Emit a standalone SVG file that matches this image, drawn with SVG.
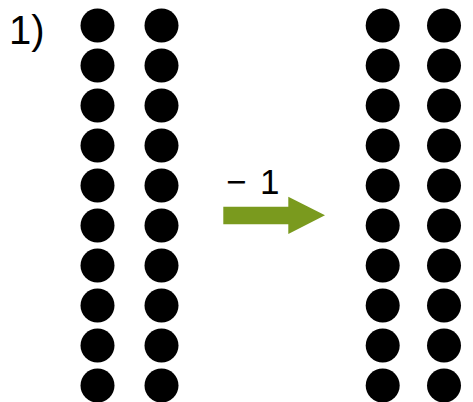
<svg xmlns="http://www.w3.org/2000/svg" width="473" height="402" viewBox="0 0 473 402">
<style>
.t{font-family:"Liberation Sans",Arial,sans-serif;fill:#000}
.d{fill:#000}
</style>
<defs>
<g id="col">
<circle class="d" cx="0" cy="25.5" r="17"/>
<circle class="d" cx="0" cy="65.5" r="17"/>
<circle class="d" cx="0" cy="105.5" r="17"/>
<circle class="d" cx="0" cy="145.5" r="17"/>
<circle class="d" cx="0" cy="185.5" r="17"/>
<circle class="d" cx="0" cy="225.5" r="17"/>
<circle class="d" cx="0" cy="265.5" r="17"/>
<circle class="d" cx="0" cy="305.5" r="17"/>
<circle class="d" cx="0" cy="345.5" r="17"/>
<circle class="d" cx="0" cy="385.5" r="17"/>
</g>
</defs>
<rect width="473" height="402" fill="#fff"/>
<text class="t" x="9" y="43.5" font-size="40">1)</text>
<g id="left-dots">
<use href="#col" x="97.5"/>
<use href="#col" x="161.5"/>
</g>
<g id="right-dots">
<use href="#col" x="382.7"/>
<use href="#col" x="444"/>
</g>
<g id="connectors">
<polygon points="223.3,206.7 288.3,206.7 288.3,196.7 325,215.3 288.3,234 288.3,224.3 223.3,224.3" fill="#7a9a1e"/>
<text class="t" y="194" font-size="35"><tspan x="226">−</tspan><tspan x="260">1</tspan></text>
</g>
</svg>
